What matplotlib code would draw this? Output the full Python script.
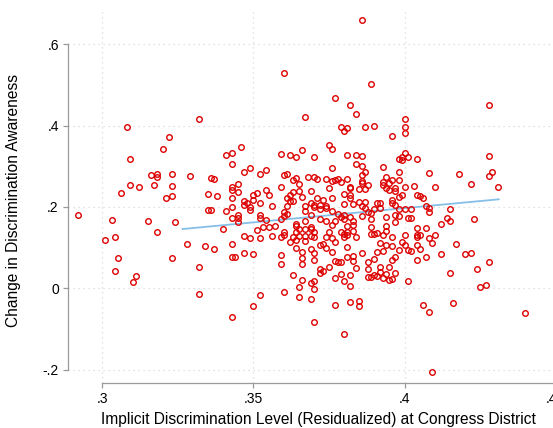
import matplotlib
matplotlib.use("Agg")
import matplotlib.pyplot as plt
import numpy as np

# district-level residualized implicit discrimination vs change in awareness
x_vals = [
    .308, .322, .360, .332, .367, .386, .389, .377, .382, .384, .400, .379, .380, .381, .387, .390, .400, .400, .396, .428,
    .320, .309, .316, .318, .318, .323, .329, .309, .312, .317, .323, .306, .323, .321, .292, .303, .315, .324, .318, .304,
    .301, .328, .305, .323, .304, .311, .310, .346, .341, .343, .343, .359, .362, .364, .366, .370, .347, .349, .352, .354,
    .336, .337, .360, .361, .363, .364, .368, .345, .343, .343, .359, .365, .335, .338, .343, .345, .350, .351, .354, .355,
    .361, .362, .363, .362, .365, .366, .369, .363, .347, .347, .348, .349, .350, .352, .356, .361, .367, .369, .370, .335,
    .336, .341, .343, .343, .345, .345, .349, .352, .352, .354, .345, .359, .360, .361, .360, .367, .369, .340, .351, .353,
    .355, .357, .364, .364, .367, .367, .365, .364, .369, .360, .369, .347, .349, .352, .356, .360, .359, .363, .365, .364,
    .367, .367, .362, .369, .334, .337, .343, .364, .366, .369, .347, .350, .343, .344, .359, .366, .370, .359, .366, .370,
    .375, .376, .381, .384, .386, .384, .376, .386, .387, .400, .399, .401, .398, .399, .404, .393, .398, .408, .370, .371,
    .374, .376, .377, .378, .379, .381, .386, .386, .388, .386, .382, .382, .385, .387, .375, .380, .382, .382, .376, .371,
    .373, .372, .374, .370, .372, .374, .380, .383, .385, .387, .386, .387, .388, .389, .390, .391, .392, .392, .393, .393,
    .394, .394, .395, .396, .395, .397, .397, .398, .400, .399, .398, .396, .397, .396, .398, .400, .402, .403, .404, .405,
    .406, .407, .408, .410, .408, .376, .378, .379, .380, .382, .386, .394, .397, .398, .401, .402, .372, .374, .377, .380,
    .383, .389, .397, .376, .381, .383, .389, .394, .370, .375, .379, .381, .383, .394, .404, .407, .370, .374, .376, .380,
    .380, .381, .384, .389, .390, .391, .393, .396, .400, .404, .404, .405, .408, .409, .377, .373, .372, .381, .392, .394,
    .396, .399, .400, .401, .402, .404, .405, .374, .376, .381, .383, .386, .391, .393, .398, .397, .407, .377, .378, .379,
    .383, .388, .390, .396, .404, .428, .418, .429, .428, .422, .431, .415, .414, .415, .412, .423, .410, .417, .412, .420,
    .422, .428, .332, .332, .343, .350, .352, .360, .363, .365, .365, .366, .369, .370, .370, .369, .370, .372, .372, .373,
    .375, .377, .379, .380, .382, .382, .384, .388, .388, .389, .390, .391, .392, .392, .393, .394, .395, .395, .396, .397,
    .401, .377, .382, .385, .385, .380, .406, .408, .409, .415, .424, .425, .427, .416, .440,
]
y_vals = [
    .396, .373, .529, .417, .421, .660, .502, .468, .451, .429, .416, .397, .386, .394, .397, .398, .397, .383, .375, .451,
    .342, .318, .279, .280, .274, .282, .276, .255, .248, .254, .252, .234, .227, .221, .180, .167, .165, .162, .138, .125,
    .120, .108, .075, .075, .042, .031, .015, .348, .327, .334, .306, .331, .327, .323, .340, .323, .287, .297, .282, .290,
    .272, .270, .278, .281, .266, .271, .274, .256, .250, .243, .249, .256, .232, .228, .221, .236, .230, .234, .241, .230,
    .221, .229, .236, .215, .239, .225, .239, .215, .205, .215, .209, .201, .216, .211, .202, .203, .202, .210, .205, .193,
    .193, .191, .200, .172, .180, .174, .192, .180, .174, .167, .164, .170, .187, .182, .177, .189, .181, .145, .144, .151,
    .151, .154, .157, .154, .166, .147, .145, .139, .145, .139, .151, .129, .124, .124, .129, .131, .126, .126, .129, .120,
    .116, .129, .115, .128, .103, .096, .109, .098, .090, .097, .086, .084, .076, .077, .082, .075, .087, .060, .061, .069,
    .352, .343, .328, .327, .326, .305, .295, .302, .287, .332, .324, .322, .318, .315, .318, .299, .287, .283, .274, .270,
    .270, .265, .266, .270, .262, .270, .279, .264, .254, .258, .247, .249, .244, .244, .246, .232, .229, .223, .223, .221,
    .218, .204, .203, .201, .195, .197, .207, .207, .213, .213, .203, .198, .188, .186, .195, .210, .209, .198, .254, .262,
    .247, .273, .260, .266, .242, .247, .239, .266, .250, .229, .225, .217, .205, .209, .195, .195, .195, .252, .229, .227,
    .221, .203, .187, .249, .197, .190, .182, .176, .180, .176, .178, .176, .180, .177, .174, .172, .170, .165, .165, .170,
    .165, .170, .162, .156, .154, .156, .151, .154, .139, .139, .138, .139, .141, .141, .149, .149, .127, .127, .123, .133,
    .125, .131, .127, .134, .134, .135, .131, .127, .131, .131, .127, .131, .123, .111, .115, .108, .106, .102, .111, .106,
    .105, .113, .106, .094, .092, .106, .097, .098, .089, .078, .080, .086, .090, .092, .094, .078, .078, .067, .065, .064,
    .067, .065, .072, .070, .070, .326, .281, .286, .277, .257, .248, .196, .172, .165, .157, .170, .130, .108, .084, .084,
    .088, .065, .052, -.015, -.071, -.043, -.017, -.008, .033, .004, -.021, .020, .012, .019, -.002, -.027, -.083, .047, .037, .043,
    .052, .026, .035, .019, .006, .032, .049, .047, .027, .029, .033, .030, .041, .052, .025, .035, .020, .052, .023, .038,
    .017, -.042, -.034, -.030, -.043, -.112, -.041, -.058, -.207, .037, .047, .003, .007, -.036, -.061,
]

# linear fit segment
fit_x = [0.3265, 0.4312]
fit_y = [0.1458, 0.2189]

xticks = [0.30, 0.35, 0.40, 0.45]
xtick_labels = [".3", ".35", ".4", ".45"]
yticks = [-0.2, 0.0, 0.2, 0.4, 0.6]
ytick_labels = ["-.2", "0", ".2", ".4", ".6"]

plt.rcParams.update({"font.family": ["Liberation Sans", "DejaVu Sans"], "font.size": 10})

W, H = 553, 428
fig = plt.figure(figsize=(W / 100, H / 100), dpi=100)
fig.patch.set_facecolor("white")
ax = fig.add_axes([68 / W, (H - 383) / H, (555.6 - 68) / W, 373 / H])

ax.plot(fit_x, fit_y, color="#86bfe6", lw=1.3, zorder=2)
ax.plot(x_vals, y_vals, "o", ms=4.0, mfc="none", mec="#dd0000", mew=1.0, zorder=3)

ax.set_xlim(0.2886, 0.4500)
ax.set_ylim(-0.2329, 0.6845)
ax.set_xticks(xticks)
ax.set_xticklabels(xtick_labels)
ax.set_yticks(yticks)
ax.set_yticklabels(ytick_labels)

ax.grid(True, color="#d8d8d8", lw=0.9, linestyle=(0, (1, 3)), zorder=0)
for sp in ["top", "right"]:
    ax.spines[sp].set_visible(False)
ax.spines["bottom"].set_bounds(0.30, 0.45)
ax.spines["left"].set_bounds(-0.2, 0.6)
for sp in ["bottom", "left"]:
    ax.spines[sp].set_color("#9a9a9a")
    ax.spines[sp].set_linewidth(0.9)
ax.tick_params(length=3.6, width=0.9, color="#9a9a9a", pad=3, labelsize=10)

ax.set_xlabel("Implicit Discrimination Level (Residualized) at Congress District", fontsize=11.2)
ax.set_ylabel("Change in Discrimination Awareness", fontsize=11.2)
ax.xaxis.set_label_coords(0.513, -0.078)
ax.yaxis.set_label_coords(-0.096, 0.49)

fig.savefig("out.png", dpi=100, facecolor="white")
